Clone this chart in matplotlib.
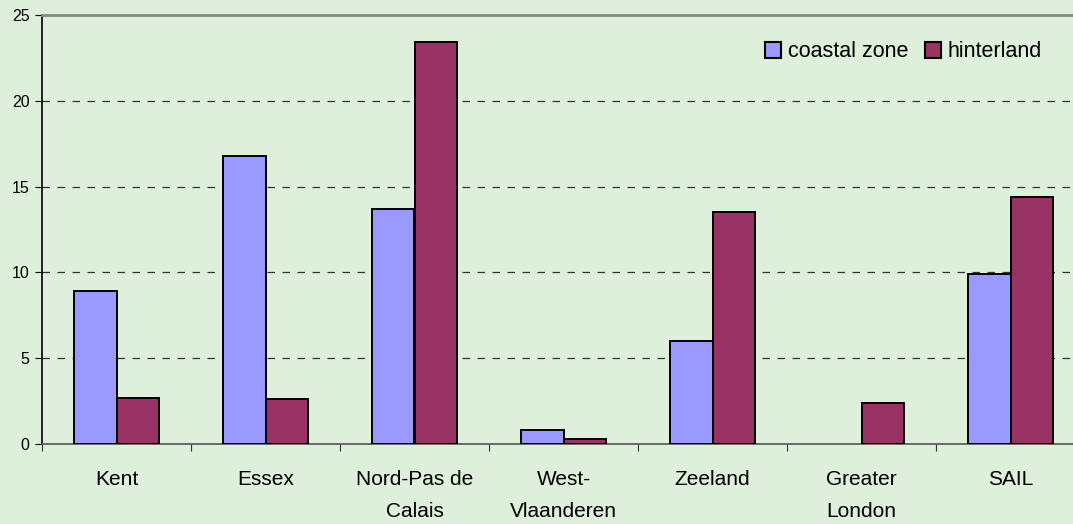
import numpy as np
import matplotlib
matplotlib.use("Agg")
import matplotlib.pyplot as plt

categories = ["Kent", "Essex", "Nord-Pas de\nCalais", "West-\nVlaanderen",
              "Zeeland", "Greater\nLondon", "SAIL"]
coastal = [8.9, 16.8, 13.7, 0.8, 6.0, 0.0, 9.9]
hinterland = [2.7, 2.6, 23.4, 0.3, 13.5, 2.4, 14.4]
yticks = [0, 5, 10, 15, 20, 25]

plt.rcParams["font.family"] = ["Liberation Sans", "DejaVu Sans"]
bg = "#DEEFDC"

fig = plt.figure(figsize=(10.73, 5.24), dpi=100, facecolor=bg)
# plot area runs past the right edge of the picture, as in the original
ax = fig.add_axes([42 / 1073, 80 / 524, 1043 / 1073, 429 / 524])
ax.set_facecolor(bg)

x = np.arange(len(categories))
w = 0.285
ax.bar(x - w / 2, coastal, w, color="#9999FF", edgecolor="black",
       linewidth=[1.4 if v > 0 else 0 for v in coastal],
       label="coastal zone", zorder=3)
ax.bar(x + w / 2, hinterland, w, color="#993366", edgecolor="black",
       linewidth=[1.4 if v > 0 else 0 for v in hinterland],
       label="hinterland", zorder=3)

ax.set_xlim(-0.5, len(categories) - 0.5)
ax.set_ylim(0, 25)
ax.set_yticks(yticks)
ax.set_yticklabels([str(t) for t in yticks], fontsize=11.5)

ax.set_xticks(np.arange(len(categories) + 1) - 0.5)
ax.set_xticklabels([])
ax.set_xticks(x, minor=True)
ax.set_xticklabels(categories, minor=True, fontsize=15, linespacing=1.85)
ax.tick_params(axis="x", which="minor", length=0, pad=19)
ax.tick_params(axis="x", which="major", length=5, direction="out",
               color="#333333")
ax.tick_params(axis="y", length=5, direction="out", pad=4)

for t in yticks[1:-1]:
    ax.axhline(t, color="#333333", linestyle=(0, (6, 6)), linewidth=0.9,
               zorder=1)

ax.spines["top"].set_color("#888888")
ax.spines["top"].set_linewidth(2)
ax.spines["right"].set_visible(False)
ax.spines["left"].set_color("black")
ax.spines["left"].set_linewidth(1.2)
ax.spines["bottom"].set_color("#555555")
ax.spines["bottom"].set_linewidth(1.2)

leg = ax.legend(loc="center right", bbox_to_anchor=(1000 / 1043, 0.914),
                frameon=False, ncol=2, fontsize=15.5, handlelength=0.75,
                handleheight=0.75, handletextpad=0.3, columnspacing=0.8,
                borderaxespad=0, borderpad=0)
for h in leg.legend_handles:
    h.set_linewidth(1.5)

fig.savefig("out.png", dpi=100, facecolor=bg)
